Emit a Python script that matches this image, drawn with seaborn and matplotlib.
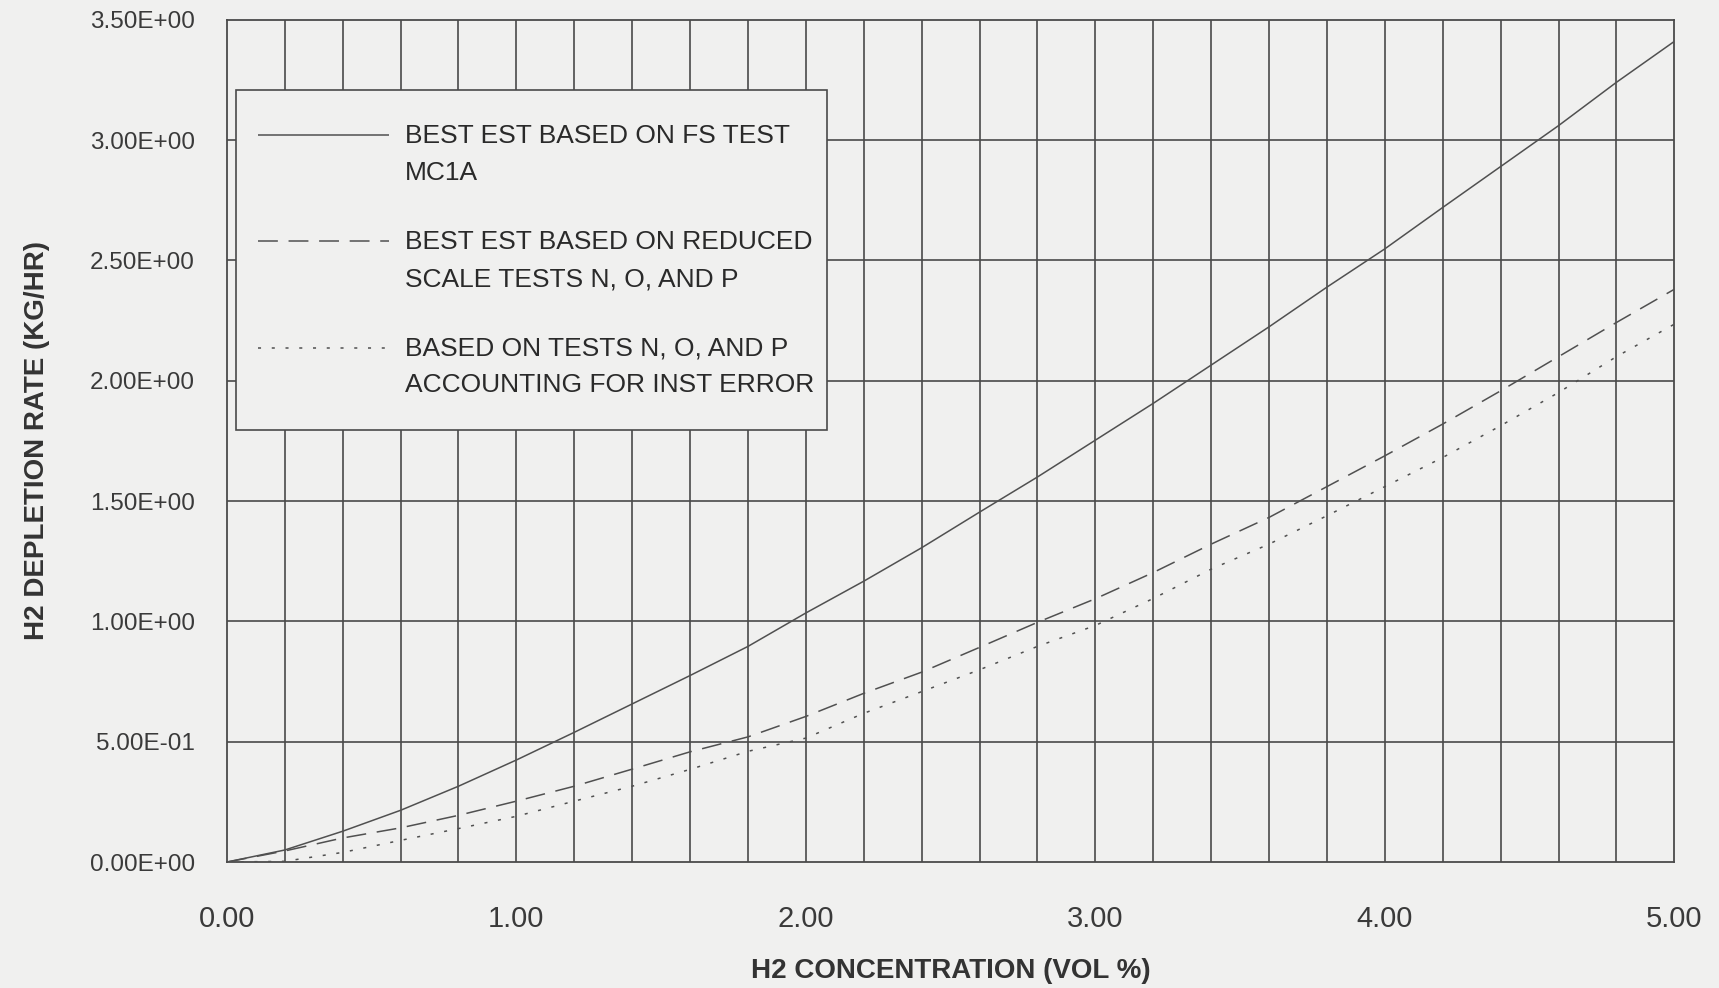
import numpy as np
import pandas as pd
import matplotlib
matplotlib.use("Agg")
import matplotlib.pyplot as plt
from matplotlib.patches import Rectangle
from matplotlib.legend_handler import HandlerLine2D
import seaborn as sns

# H2 concentration (vol %) grid used for reading the curves
conc = [0.0, 0.2, 0.4, 0.6, 0.8, 1.0, 1.2, 1.4, 1.6, 1.8, 2.0, 2.2, 2.4,
        2.6, 2.8, 3.0, 3.2, 3.4, 3.6, 3.8, 4.0, 4.2, 4.4, 4.6, 4.8, 5.0]

# depletion rate (kg/hr)
best_fs = [0.0, 0.05, 0.128, 0.215, 0.315, 0.424, 0.539, 0.657, 0.775, 0.896,
           1.035, 1.167, 1.306, 1.454, 1.60, 1.753, 1.906, 2.065, 2.224, 2.389,
           2.548, 2.72, 2.89, 3.06, 3.24, 3.41]
best_reduced = [0.0, 0.046, 0.10, 0.142, 0.194, 0.253, 0.315, 0.386, 0.458, 0.52,
                0.605, 0.701, 0.789, 0.892, 0.996, 1.094, 1.203, 1.321, 1.432, 1.56,
                1.688, 1.82, 1.958, 2.10, 2.242, 2.38]
inst_error = [0.0, 0.003, 0.04, 0.09, 0.139, 0.19, 0.253, 0.315, 0.385, 0.46,
              0.515, 0.618, 0.708, 0.799, 0.896, 0.983, 1.095, 1.217, 1.321, 1.439,
              1.56, 1.681, 1.813, 1.951, 2.10, 2.235]

labels = ["BEST EST BASED ON FS TEST\nMC1A",
          "BEST EST BASED ON REDUCED\nSCALE TESTS N, O, AND P",
          "BASED ON TESTS N, O, AND P\nACCOUNTING FOR INST ERROR"]

x_ticks = [0, 1, 2, 3, 4, 5]
x_ticklabels = ["0.00", "1.00", "2.00", "3.00", "4.00", "5.00"]
y_ticks = [0, 0.5, 1.0, 1.5, 2.0, 2.5, 3.0, 3.5]
y_ticklabels = ["0.00E+00", "5.00E-01", "1.00E+00", "1.50E+00",
                "2.00E+00", "2.50E+00", "3.00E+00", "3.50E+00"]

bg = "#f0f0ef"
ink = "#4a4a4a"


class FirstLineHandler(HandlerLine2D):
    # put the legend sample next to the first line of a two-line label
    def create_artists(self, legend, orig_handle, xdescent, ydescent,
                       width, height, fontsize, trans):
        arts = super().create_artists(legend, orig_handle, xdescent, ydescent,
                                      width, height, fontsize, trans)
        for a in arts:
            a.set_ydata(np.asarray(a.get_ydata()) + 14.0)
        return arts


sns.set_theme(style="white")
plt.rcParams["font.family"] = ["Liberation Sans", "DejaVu Sans"]

fig = plt.figure(figsize=(17.19, 9.88), dpi=100, facecolor=bg)
ax = fig.add_axes([0.132, 0.1275, 0.842, 0.8525])
ax.set_facecolor(bg)

# grid: verticals every 0.2, horizontals every 0.5
for gx in np.arange(0.2, 5.0, 0.2):
    ax.axvline(gx, color=ink, lw=1.2, zorder=1)
for gy in y_ticks[1:-1]:
    ax.axhline(gy, color=ink, lw=1.2, zorder=1)

styles = [(0, ()), (0, (13, 7)), (0, (2, 7))]
series = [best_fs, best_reduced, inst_error]
for vals, lab, ls in zip(series, labels, styles):
    sns.lineplot(x=conc, y=vals, ax=ax, color="#505050", lw=1.1,
                 linestyle=ls, label=lab, zorder=3)

ax.set_xlim(0, 5)
ax.set_ylim(0, 3.5)
ax.set_xticks(x_ticks)
ax.set_xticklabels(x_ticklabels)
ax.set_yticks(y_ticks)
ax.set_yticklabels(y_ticklabels)
ax.tick_params(axis="x", direction="out", length=8, width=1.2, color=ink,
               pad=23, labelsize=21, labelcolor="#3a3a3a")
ax.tick_params(axis="y", direction="out", length=8, width=1.2, color=ink,
               pad=15, labelsize=17.5, labelcolor="#3a3a3a")
for sp in ax.spines.values():
    sp.set_color(ink)
    sp.set_linewidth(1.3)

ax.set_xlabel("H2 CONCENTRATION (VOL %)", fontsize=20, fontweight="bold",
              color="#333333", labelpad=18)
ax.set_ylabel("H2 DEPLETION RATE (KG/HR)", fontsize=20, fontweight="bold",
              color="#333333", labelpad=29)

# legend frame
ax.add_patch(Rectangle((0.0061, 0.5131), 0.4088, 0.4035, transform=ax.transAxes,
                       facecolor=bg, edgecolor=ink, lw=1.2, zorder=4))

handles, labs = ax.get_legend_handles_labels()
leg = ax.legend(handles, labs, loc="upper left", bbox_to_anchor=(0.0212, 0.8764),
                fontsize=19, handlelength=4.98, handletextpad=0.62,
                labelspacing=1.7, borderpad=0, borderaxespad=0, frameon=False,
                handler_map={h: FirstLineHandler() for h in handles})
leg.set_zorder(5)
for t in leg.get_texts():
    t.set_color("#2a2a2a")
    t.set_linespacing(1.7)
for h in leg.get_lines():
    h.set_linewidth(1.1)

fig.savefig("out.png", dpi=100, facecolor=bg)
